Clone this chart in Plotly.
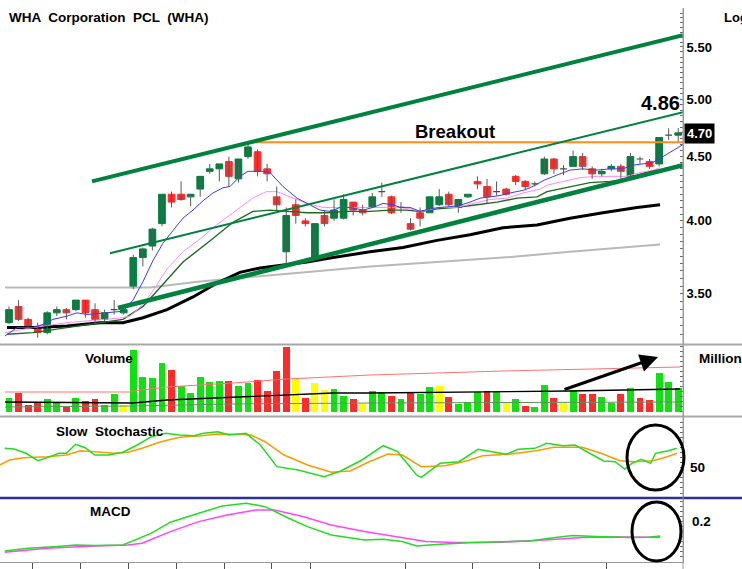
import plotly.graph_objects as go

W, H = 742, 569
def fx(p): return p / W
def fy(p): return 1 - p / H

# ---------------- data ----------------
opens = [3.32,3.42,3.34,3.29,3.26,3.38,3.40,3.40,3.46,3.40,
         3.34,3.40,3.38,3.54,3.74,3.82,3.98,4.20,4.20,4.18,
         4.24,4.38,4.40,4.46,4.32,4.50,4.54,4.40,4.18,3.78,
         4.12,4.00,3.74,4.04,4.02,4.02,4.14,4.08,4.10,4.22,
         4.18,4.10,3.98,4.06,4.06,4.12,4.20,4.10,4.18,4.30,
         4.26,4.22,4.24,4.34,4.30,4.28,4.36,4.48,4.40,4.42,
         4.50,4.40,4.36,4.40,4.42,4.34,4.48,4.46,4.44,4.68,
         4.68]
highs = [3.42,3.46,3.35,3.32,3.39,3.42,3.41,3.46,3.46,3.44,
         3.40,3.46,3.42,3.76,3.81,3.95,4.20,4.22,4.30,4.20,
         4.34,4.44,4.44,4.50,4.48,4.62,4.56,4.44,4.26,4.10,
         4.16,4.02,3.98,4.08,4.16,4.20,4.14,4.12,4.21,4.29,
         4.19,4.14,4.02,4.10,4.18,4.24,4.22,4.16,4.20,4.34,
         4.32,4.30,4.25,4.35,4.31,4.30,4.50,4.49,4.43,4.55,
         4.53,4.42,4.40,4.44,4.44,4.53,4.50,4.48,4.66,4.74,
         4.74]
lows = [3.31,3.33,3.28,3.23,3.25,3.36,3.34,3.39,3.35,3.31,
        3.33,3.37,3.37,3.53,3.68,3.79,3.96,4.10,4.15,4.11,
        4.18,4.36,4.30,4.26,4.29,4.48,4.34,4.30,4.08,3.70,
        3.98,3.96,3.73,3.96,4.00,4.01,4.04,4.04,4.10,4.18,
        4.05,4.06,3.93,3.96,4.06,4.11,4.11,4.06,4.17,4.24,
        4.13,4.19,4.19,4.27,4.23,4.26,4.35,4.36,4.35,4.42,
        4.39,4.32,4.34,4.38,4.30,4.33,4.44,4.40,4.42,4.64,
        4.62]
closes = [3.40,3.34,3.29,3.26,3.38,3.40,3.38,3.46,3.38,3.34,
          3.38,3.40,3.40,3.74,3.80,3.94,4.20,4.14,4.16,4.20,
          4.34,4.40,4.44,4.34,4.48,4.58,4.38,4.36,4.12,4.04,
          4.04,3.98,3.98,3.98,4.08,4.16,4.08,4.06,4.18,4.22,
          4.06,4.10,3.94,4.02,4.18,4.18,4.12,4.16,4.20,4.28,
          4.18,4.22,4.20,4.30,4.26,4.28,4.48,4.40,4.40,4.50,
          4.42,4.36,4.38,4.42,4.38,4.50,4.48,4.42,4.66,4.68,
          4.70]
volume = [28,38,13,18,25,20,10,28,21,25,
          13,35,13,123,69,67,97,83,51,38,
          70,60,62,62,51,58,63,42,81,129,
          65,28,57,43,46,31,25,15,42,40,
          31,25,37,35,50,51,30,15,19,39,
          42,40,17,25,11,10,53,27,17,43,
          35,35,29,17,35,47,27,23,77,59,
          47]
vol_kind = list("GRRRGGRGRR" "GGYGGGGRGG" "GGGRGGRRRR" "YRYYGGRYGG"
                "RGRGGYRGGG" "RGYGRGGRYG" "RRGGRGRRGG" "G")

ma_blue = [(-0.42,3.24),(0.84,3.29),(1.46,3.29),(2.51,3.29),(3.56,3.31),(4.6,3.34),
           (6.07,3.36),(7.11,3.38),(8.16,3.37),(9.83,3.38),(11.92,3.39),(12.97,3.46),
           (14.02,3.58),(15.06,3.72),(16.11,3.84),(17.15,3.93),(18.2,4.02),(19.25,4.08),
           (20.29,4.15),(21.34,4.21),(22.38,4.25),(23.12,4.26),(24.16,4.34),(25.0,4.38),
           (25.94,4.38),(26.57,4.38),(27.3,4.37),(28.66,4.26),(30.13,4.17),(31.17,4.13),
           (32.53,4.08),(33.58,4.07),(34.62,4.10),(35.67,4.10),(37.03,4.08),(38.08,4.10),
           (39.12,4.13),(40.17,4.12),(40.9,4.10),(41.95,4.10),(43.0,4.07),(44.04,4.09),
           (45.08,4.10),(46.86,4.11),(48.22,4.14),(49.27,4.17),(50.31,4.18),(51.36,4.19),
           (52.41,4.21),(53.77,4.23),(54.5,4.25),(56.0,4.31),(57.3,4.35),(58.7,4.39),
           (60.0,4.40),(61.5,4.39),(62.9,4.40),(64.2,4.40),(65.3,4.43),(66.3,4.44),
           (67.3,4.45),(68.4,4.50),(69.9,4.57),(70.5,4.60)]
ma_pink = [(-0.42,3.26),(2.51,3.29),(6.07,3.32),(9.52,3.34),(11.92,3.35),(12.66,3.36),
           (14.0,3.43),(15.06,3.52),(16.5,3.66),(18.2,3.78),(20.0,3.87),(21.7,3.97),
           (23.43,4.06),(25.5,4.17),(26.9,4.22),(28.03,4.22),(29.39,4.18),(31.17,4.13),
           (32.85,4.10),(34.94,4.10),(36.72,4.10),(38.49,4.10),(40.59,4.10),(41.95,4.09),
           (43.0,4.07),(45.08,4.10),(46.86,4.10),(48.54,4.13),(50.31,4.16),(52.09,4.17),
           (53.77,4.21),(55.54,4.24),(56.28,4.27),(57.95,4.30),(59.73,4.33),(61.5,4.34),
           (63.18,4.34),(64.6,4.34),(66.0,4.37),(67.4,4.39),(68.1,4.41)]
ma_dkgreen = [(-0.21,3.25),(2.51,3.26),(6.07,3.29),(9.52,3.32),(11.92,3.34),(14.02,3.42),
              (15.79,3.54),(18.2,3.71),(20.71,3.84),(23.43,3.99),(25.52,4.07),(27.3,4.08),
              (29.08,4.07),(31.17,4.06),(33.26,4.06),(35.36,4.07),(37.76,4.07),(39.85,4.08),
              (41.63,4.08),(43.0,4.07),(44.77,4.09),(46.86,4.10),(48.95,4.12),(51.05,4.14),
              (53.14,4.17),(55.23,4.18),(56.28,4.22),(58.68,4.26),(60.77,4.29),(62.87,4.30),
              (64.23,4.31),(65.69,4.35),(67.05,4.38),(67.8,4.39)]
ma_black = [(-0.21,3.29),(2.51,3.29),(6.07,3.30),(9.52,3.32),(11.92,3.32),(14.02,3.35),
            (16.53,3.40),(19.25,3.48),(21.76,3.57),(24.16,3.64),(26.26,3.67),(28.66,3.69),
            (31.17,3.71),(33.89,3.74),(37.76,3.78),(41.21,3.81),(44.77,3.86),(48.22,3.90),
            (51.67,3.95),(55.23,3.97),(58.68,4.02),(62.13,4.06),(65.69,4.10),(68.1,4.12)]
ma_gray = [(-0.42,3.54),(9.52,3.54),(12.45,3.54),(14.75,3.54),(19.98,3.58),(25.21,3.61),
           (30.44,3.64),(37.76,3.68),(44.77,3.71),(51.67,3.74),(58.68,3.78),(68.1,3.83)]

channel_upper = [(8.68,4.30),(70.5,5.62)]
channel_mid = [(10.56,3.77),(70.5,4.88)]
channel_lower = [(11.4,3.41),(70.5,4.43)]
breakout_line = [(25.0,4.62),(70.5,4.62)]

vol_red = [(-0.42,39.4),(12.66,39.4),(12.97,41.4),(16.53,49.4),(23.43,57.4),
           (29.08,65.4),(37.76,73.4),(51.67,81.4),(70.19,89.4)]
vol_black = [(-0.42,19.4),(12.97,17.4),(16.53,23.4),(23.43,29.4),(28.66,33.4),
             (33.89,37.4),(37.76,37.4),(48.22,39.4),(58.68,41.4),(70.19,45.4)]
vol_green = [(-0.42,9.4),(12.97,11.4),(23.43,15.4),(37.76,17.4),(70.19,19.4)]
vol_arrow = [(57.95,43.4),(67.89,109.4)]

stoch_k = [(-0.45,69.1),(0.54,68.4),(1.78,64.2),(3.02,56.9),(4.01,59.9),(5.25,64.2),
           (5.99,64.2),(6.98,73.1),(7.97,69.7),(8.96,62.5),(10.44,62.5),(11.92,65.2),
           (13.41,72.4),(14.9,80.6),(16.38,83.9),(17.87,82.3),(19.35,81.6),(20.35,83.9),
           (21.83,85.5),(23.06,82.3),(24.79,83.9),(26.29,72.4),(28.02,51.0),(30.25,47.7),
           (32.97,41.1),(34.7,46.7),(36.92,57.6),(39.15,71.7),(40.64,65.8),(42.63,42.8),
           (43.12,40.5),(45.09,54.3),(47.07,55.9),(49.06,68.1),(50.54,65.8),(52.03,63.2),
           (53.26,68.1),(55.0,69.1),(56.23,74.0),(57.97,71.7),(59.21,72.4),(60.44,65.8),
           (62.18,56.6),(63.41,55.9),(64.4,48.7),(65.15,54.3),(66.14,58.2),(67.12,54.3),
           (67.62,64.2),(68.86,66.5),(69.85,69.1)]
stoch_d = [(-0.94,52.7),(0.05,57.6),(1.54,59.9),(4.01,60.8),(5.99,62.5),(7.48,66.8),
           (8.96,65.8),(10.94,64.2),(12.43,65.2),(13.91,69.1),(15.89,75.6),(17.87,80.0),
           (19.85,81.3),(21.83,83.2),(23.81,82.9),(25.29,82.3),(26.78,75.6),(28.77,62.5),
           (31.23,52.7),(33.71,45.5),(35.69,46.7),(37.67,55.9),(39.66,63.5),(41.14,62.5),
           (43.12,51.0),(45.6,52.0),(47.57,55.9),(49.55,61.8),(52.52,63.5),(55.0,66.5),
           (56.98,70.1),(59.95,70.1),(61.92,64.2),(63.91,56.9),(65.4,55.9),(67.38,56.9),
           (68.86,60.8),(69.85,64.2)]

macd_line = [(-0.45,0.050),(2.03,0.064),(5.0,0.072),(6.98,0.080),(8.96,0.077),(11.92,0.080),
             (14.9,0.139),(16.88,0.194),(19.85,0.239),(22.32,0.275),(24.79,0.289),(26.78,0.272),
             (29.26,0.214),(31.23,0.172),(33.71,0.130),(37.18,0.105),(39.15,0.109),(41.14,0.097),
             (42.63,0.075),(45.09,0.084),(48.57,0.092),(51.54,0.097),(54.5,0.100),(56.49,0.114),
             (58.95,0.127),(61.43,0.122),(64.9,0.117),(66.88,0.119),(68.12,0.125)]
macd_signal = [(-0.45,0.044),(4.01,0.064),(8.96,0.075),(12.43,0.080),(13.91,0.089),(16.88,0.147),
               (19.85,0.197),(22.82,0.230),(25.79,0.255),(27.77,0.255),(30.74,0.222),(33.71,0.180),
               (37.18,0.147),(40.64,0.122),(43.61,0.097),(46.58,0.092),(51.54,0.094),(55.98,0.105),
               (59.95,0.117),(63.41,0.120),(68.12,0.119)]

week_ticks = [2.5, 7.5, 12.5, 17.5, 22.5, 27.5, 31.5, 41.5, 48.5, 55.5, 62.5]
price_labels = [3.5, 4.0, 4.5, 5.0, 5.5]

# ---------------- styling ----------------
GREEN_BODY = "#007f3f"
RED_BODY = "#ff2b2b"
TREND = "#00823f"
VOLC = {"G": "#11e011", "R": "#ff2b2b", "Y": "#ffff00"}
FONT = "Liberation Sans, Arial, sans-serif"

n = len(opens)
idx = list(range(n))

fig = go.Figure()

def xs(pts): return [p[0] for p in pts]
def ys(pts): return [p[1] for p in pts]

def line(pts, color, width, yaxis="y", dash=None):
    fig.add_trace(go.Scatter(x=xs(pts), y=ys(pts), mode="lines",
                             line=dict(color=color, width=width, dash=dash),
                             xaxis="x", yaxis=yaxis, hoverinfo="skip"))

# moving averages
line(ma_gray, "#b9b9b9", 2)
line(ma_black, "#000000", 3)
line(ma_dkgreen, "#1d6b1d", 1.4)
line(ma_pink, "#ff88ff", 1)
line(ma_blue, "#3a3aff", 1)

# wicks
wx, wy = [], []
for i in idx:
    wx += [i, i, None]
    wy += [lows[i], highs[i], None]
fig.add_trace(go.Scatter(x=wx, y=wy, mode="lines", line=dict(color="#5a5a5a", width=1),
                         xaxis="x", yaxis="y", hoverinfo="skip"))

bi = [i for i in idx if opens[i] != closes[i]]
di = [i for i in idx if opens[i] == closes[i]]
fig.add_trace(go.Candlestick(
    x=bi, open=[opens[i] for i in bi], close=[closes[i] for i in bi],
    high=[max(opens[i], closes[i]) for i in bi], low=[min(opens[i], closes[i]) for i in bi],
    increasing=dict(fillcolor=GREEN_BODY, line=dict(color=GREEN_BODY, width=1)),
    decreasing=dict(fillcolor=RED_BODY, line=dict(color=RED_BODY, width=1)),
    whiskerwidth=0, xaxis="x", yaxis="y", hoverinfo="skip"))
fig.add_trace(go.Candlestick(
    x=di, open=[opens[i] for i in di], close=[closes[i] for i in di],
    high=[opens[i] for i in di], low=[opens[i] for i in di],
    increasing=dict(fillcolor="#444444", line=dict(color="#444444", width=1.2)),
    decreasing=dict(fillcolor="#444444", line=dict(color="#444444", width=1.2)),
    whiskerwidth=0, xaxis="x", yaxis="y", hoverinfo="skip"))

# trend lines
line(breakout_line, "#ff8c1a", 2)
line(channel_upper, TREND, 4)
line(channel_mid, TREND, 2)
line(channel_lower, TREND, 4.5)

# volume
fig.add_trace(go.Bar(x=idx, y=volume, marker=dict(color=[VOLC[k] for k in vol_kind], line=dict(width=0)),
                     width=0.72, xaxis="x", yaxis="y2", hoverinfo="skip"))
line(vol_red, "#ff7070", 1, "y2")
line(vol_green, "#5f8f5f", 1, "y2")
line(vol_black, "#000000", 1.3, "y2")

# stochastic
line(stoch_d, "#ff9900", 1.5, "y3")
line(stoch_k, "#22dd22", 1.5, "y3")

# macd
line(macd_signal, "#ff44ff", 1.5, "y4")
line(macd_line, "#22dd22", 1.5, "y4")

# ---------------- layout ----------------
price_tickvals = [round(3.25 + 0.05 * k, 2) for k in range(53)]
price_ticktext = [f"{v:.2f}" if v in price_labels else "" for v in price_tickvals]

right_axis = dict(side="right", anchor="x", showgrid=False, zeroline=False, showline=True,
                  linecolor="#9a9a9a", linewidth=1, ticks="inside", ticklen=3, tickcolor="#666",
                  fixedrange=True)

fig.update_layout(
    width=W, height=H, margin=dict(l=0, r=0, t=0, b=0),
    paper_bgcolor="white", plot_bgcolor="white", showlegend=False,
    boxgap=0.0, boxgroupgap=0.3,
    bargap=0,
    font=dict(family=FONT, color="black"),
    xaxis=dict(domain=[0, fx(683)], range=[-0.941, 70.5], anchor="y4", showgrid=False,
               zeroline=False, showline=True, linecolor="#9a9a9a", ticks="outside", ticklen=7,
               tickcolor="#555", tickvals=week_ticks, showticklabels=False,
               rangeslider=dict(visible=False), fixedrange=True),
    yaxis=dict(right_axis, type="log", domain=[fy(344), fy(8)], range=[0.50416, 0.77137],
               tickvals=price_tickvals, ticktext=price_ticktext,
               tickfont=dict(family=FONT, size=13, color="black", weight="bold")),
    yaxis2=dict(right_axis, domain=[fy(416), fy(345)], range=[-8.6, 133.4], dtick=10,
                showticklabels=False),
    yaxis3=dict(right_axis, domain=[fy(497), fy(417)], range=[21.1, 100], dtick=5,
                showticklabels=False),
    yaxis4=dict(right_axis, domain=[fy(562), fy(499)], range=[-0.005, 0.31], dtick=0.025,
                showticklabels=False),
)

shapes = [
    dict(type="line", xref="paper", yref="paper", x0=0, x1=1, y0=fy(344.5), y1=fy(344.5),
         line=dict(color="#a8a8a8", width=2)),
    dict(type="line", xref="paper", yref="paper", x0=0, x1=1, y0=fy(416.5), y1=fy(416.5),
         line=dict(color="#a8a8a8", width=2)),
    dict(type="line", xref="paper", yref="paper", x0=0, x1=1, y0=fy(498), y1=fy(498),
         line=dict(color="#2e3192", width=2.5)),
    dict(type="line", xref="paper", yref="paper", x0=fx(683), x1=fx(683), y0=0, y1=fy(8),
         line=dict(color="#9a9a9a", width=1)),
    dict(type="circle", xref="paper", yref="paper", x0=fx(627), x1=fx(684), y0=fy(490), y1=fy(425),
         line=dict(color="black", width=3)),
    dict(type="circle", xref="paper", yref="paper", x0=fx(632), x1=fx(681), y0=fy(561), y1=fy(502),
         line=dict(color="black", width=3)),
]
fig.update_layout(shapes=shapes)

def label(text, x, y, size=13.5, xanchor="left", **kw):
    fig.add_annotation(text=f"<b>{text}</b>", x=fx(x), y=fy(y), xref="paper", yref="paper",
                       xanchor=xanchor, yanchor="middle", showarrow=False,
                       font=dict(family=FONT, size=size, color=kw.pop("color", "black")), **kw)

NB = "\u00a0"
label(f"WHA {NB}Corporation {NB}PCL {NB}(WHA)", 7, 17, 13.5)
label("Log", 722, 17, 13)
label("Breakout", 455, 131, 18.5, xanchor="center")
label("4.86", 682, 103, 20, xanchor="right")
label("4.70", 684, 133, 13, color="white", bgcolor="black", borderpad=2)
label("Volume", 83, 358)
label("Million", 697, 358)
label(f"Slow {NB}Stochastic", 54, 431)
label("50", 688, 467.5)
label("MACD", 88, 512)
label("0.2", 690, 521)

fig.add_annotation(x=vol_arrow[1][0], y=vol_arrow[1][1], ax=vol_arrow[0][0], ay=vol_arrow[0][1],
                   xref="x", yref="y2", axref="x", ayref="y2", text="", showarrow=True,
                   arrowhead=2, arrowsize=1.2, arrowwidth=3, arrowcolor="black")

fig.write_html("out.html", config={"displayModeBar": False},
               post_script="document.body.style.margin='0px';document.body.style.overflow='hidden';")
